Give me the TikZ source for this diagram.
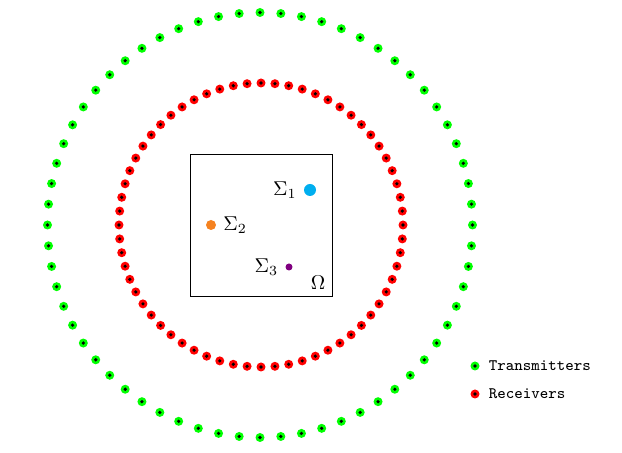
\documentclass[tikz,border=0pt]{standalone}
\usepackage{amsmath, amssymb}
\usepackage{tikz}
\usetikzlibrary{positioning}
\definecolor{sigmaone}{RGB}{0,174,239}
\definecolor{sigmatwo}{RGB}{245,130,32}
\definecolor{sigmathree}{RGB}{128,0,128}
\tikzset{>=latex}
\tikzset{
  tx/.style={circle, fill=green, inner sep=0pt, minimum size=4.5pt,
    path picture={\fill[black] (path picture bounding box.center) circle (0.9pt);}},
  rx/.style={circle, fill=red, inner sep=0pt, minimum size=4.5pt,
    path picture={\fill[black] (path picture bounding box.center) circle (0.9pt);}},
  blob/.style={circle, inner sep=0pt}
}

\begin{document}
\begin{tikzpicture}[x=0.5pt, y=-0.5pt]
          \useasboundingbox (0,0) rectangle (622,453);
          % transmitters and receivers
          \foreach \a in {0,...,63}
            \node[tx, shift={(260,225)}] (t\a) at (90+\a*5.625:212.5) {};
          \foreach \a in {0,...,63}
            \node[rx, shift={(261,225)}] (r\a) at (90+\a*5.625:142) {};
          % domain
          \node[draw, minimum size=71pt, inner sep=0pt] (omega) at (261,225.5) {};
          \node[anchor=south east] at (omega.south east) {$\Omega$};
          % inclusions
          \node[blob, fill=sigmaone, minimum size=6pt] (s1) at (310,190) {};
          \node[left=0pt of s1] {$\Sigma_1$};
          \node[blob, fill=sigmatwo, minimum size=5pt] (s2) at (211,225) {};
          \node[right=0pt of s2] {$\Sigma_2$};
          \node[blob, fill=sigmathree, minimum size=3.5pt] (s3) at (289,267) {};
          \node[left=0pt of s3] {$\Sigma_3$};
          % legend
          \node[tx] (ltx) at (475,366) {};
          \node[right=1pt of ltx, font=\ttfamily\footnotesize] {Transmitters};
          \node[rx] (lrx) at (475,394) {};
          \node[right=1pt of lrx, font=\ttfamily\footnotesize] {Receivers};
        \end{tikzpicture}
\end{document}
